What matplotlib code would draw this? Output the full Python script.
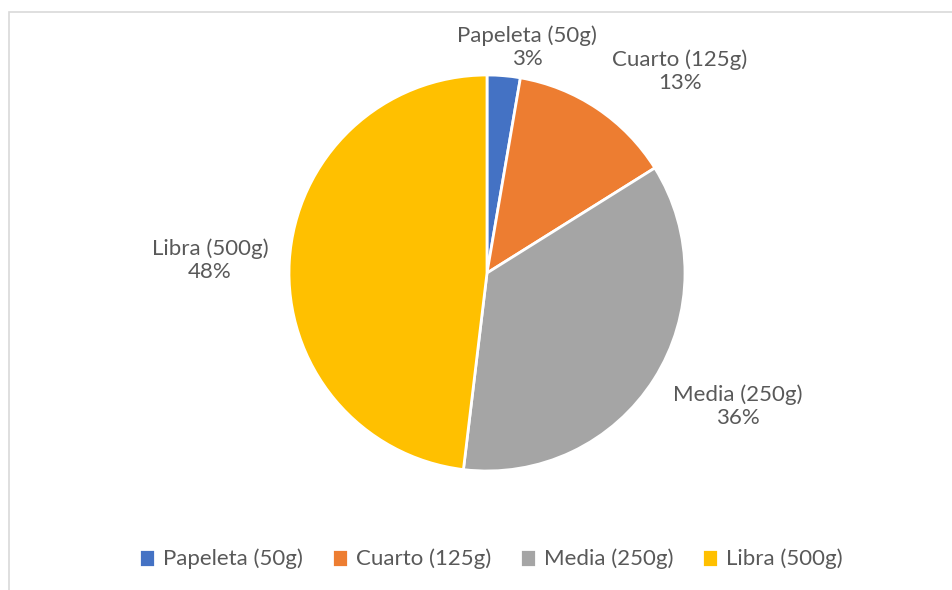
import matplotlib
matplotlib.use("Agg")
import matplotlib.pyplot as plt
from matplotlib.patches import Rectangle

categories = ["Papeleta (50g)", "Cuarto (125g)", "Media (250g)", "Libra (500g)"]
values = [2.7, 13.4, 35.8, 48.1]
pct_labels = ["3%", "13%", "36%", "48%"]
colors = ["#4472C4", "#ED7D31", "#A5A5A5", "#FFC000"]

plt.rcParams['font.family'] = ['Lato', 'DejaVu Sans']
txt_color = "#595959"

W, H = 952, 590
fig = plt.figure(figsize=(W / 100, H / 100), dpi=100)
fig.patch.set_facecolor("white")

# chart border
fig.add_artist(Rectangle((8.5 / W, -0.01), 1.0, 1 - 11.5 / H + 0.01,
                         transform=fig.transFigure, fill=False,
                         edgecolor="#D9D9D9", linewidth=1.2))

cx, cy, r = 487, 273, 198
ax = fig.add_axes([(cx - r) / W, (H - cy - r) / H, 2 * r / W, 2 * r / H])
wedges, _ = ax.pie(values, colors=colors, startangle=90, counterclock=False,
                   wedgeprops=dict(edgecolor="white", linewidth=2))
ax.set_xlim(-1, 1)
ax.set_ylim(-1, 1)
ax.set_aspect("equal")
ax.axis("off")

# label positions in pixel coords (layout)
label_pos = [(527, 47), (680, 71), (738, 406), (210, 260)]
for cat, pct, (px, py) in zip(categories, pct_labels, label_pos):
    fig.text(px / W, 1 - py / H, f"{cat}\n{pct}", ha="center", va="center",
             fontsize=16, color=txt_color, linespacing=1.18)

leg = fig.legend(wedges, categories, loc="center", ncol=4,
                 bbox_to_anchor=(491 / W, 1 - 559 / H), frameon=False,
                 fontsize=16, handlelength=0.72, handleheight=0.9,
                 handletextpad=0.35, columnspacing=1.3, labelcolor=txt_color)

fig.savefig("out.png", dpi=100, facecolor="white")
